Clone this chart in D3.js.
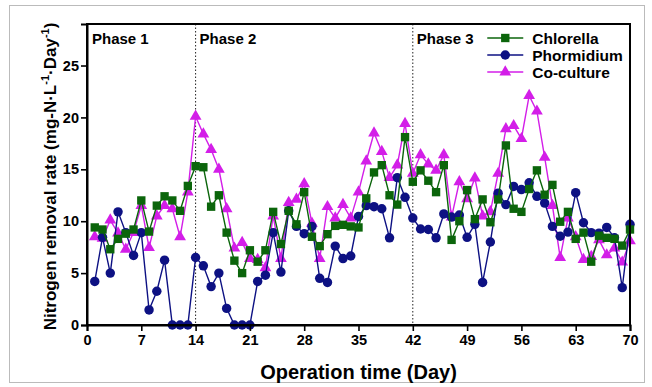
<!DOCTYPE html>
<html>
<head>
<meta charset="utf-8">
<script src="https://cdn.jsdelivr.net/npm/d3@7"></script>
<style>
  body { margin: 0; background: #fff; }
  svg { display: block; font-family: "Liberation Sans", Arial, sans-serif; }
</style>
</head>
<body>
<svg id="chart" width="652" height="387"></svg>
<script>
// Days 1..70
const days = d3.range(1, 71);

const chlorella = [
  9.4, 9.2, 7.3, 8.3, 8.8, 9.2, 12.0, 9.0, 11.5, 12.4,
  12.0, 11.0, 13.4, 15.3, 15.2, 11.4, 12.5, 8.9, 6.2, 5.0,
  7.2, 6.1, 7.2, 10.9, 7.8, 11.0, 9.7, 12.8, 8.5, 7.6,
  8.75, 9.55, 9.65, 9.5, 9.4, 12.2, 14.7, 15.4, 12.5, 11.6,
  18.1, 13.8, 14.9, 13.9, 12.8, 15.4, 8.2, 10.0, 13.0, 10.2,
  12.1, 9.9, 12.1, 17.3, 11.2, 10.9, 13.1, 14.9, 12.55, 13.5,
  9.95, 10.9, 8.3, 8.9, 6.1, 8.6, 8.4, 8.3, 7.65, 9.2
];

const phormidium = [
  4.2, 8.45, 5.0, 10.9, 8.9, 6.7, 8.9, 1.45, 3.25, 6.25,
  0, 0, 0, 6.5, 5.7, 3.7, 5.0, 1.6, 0, 0,
  0, 4.2, 4.8, 8.9, 5.1, 11.0, 9.5, 8.8, 9.5, 4.5,
  4.1, 7.6, 6.4, 6.65, 10.45, 11.5, 11.4, 11.2, 8.4, 14.2,
  12.3, 10.3, 9.25, 9.2, 8.4, 10.7, 10.4, 10.6, 8.45, 9.7,
  4.1, 8.0, 12.7, 11.6, 13.35, 13.05, 13.7, 12.4, 11.75, 9.5,
  8.55, 8.95, 12.75, 9.85, 8.9, 8.85, 9.4, 8.4, 3.6, 9.7
];

const coculture = [
  8.5, 8.35, 10.1, 8.85, 7.3, 8.9, 11.5, 7.45, 10.5, 11.5,
  11.2, 8.5, 12.8, 20.1, 18.4, 16.9, 15.0, 11.2, 7.4, 7.95,
  6.4, 6.3, 5.5, 10.5, 6.4, 11.8, 12.1, 13.6, 9.8, 6.4,
  11.4, 10.3, 11.6, 10.3, 12.8, 15.8, 18.5, 16.7, 14.2, 15.4,
  19.4, 14.6, 16.4, 15.5, 14.9, 16.4, 10.4, 13.8, 12.15, 14.15,
  10.5, 10.9, 14.6, 18.9, 19.2, 17.95, 22.1, 20.6, 16.15, 11.5,
  6.5, 10.3, 8.5, 6.3, 6.6, 8.2, 6.75, 7.4, 6.05, 8.1
];

const xTicks = [0, 7, 14, 21, 28, 35, 42, 49, 56, 63, 70];
const yTicks = [0, 5, 10, 15, 20, 25];
const phaseStarts = [0, 14, 42];
const phaseNames = ["Phase 1", "Phase 2", "Phase 3"];

const series = [
  { name: "Chlorella", values: chlorella, color: "#0b650b", symbol: d3.symbolSquare, size: 70 },
  { name: "Phormidium", values: phormidium, color: "#0d1183", symbol: d3.symbolCircle, size: 70 },
  { name: "Co-culture", values: coculture, color: "#d31ee8", symbol: d3.symbolTriangle, size: 60 }
];

const svg = d3.select('#chart');
const margin = { left: 87, right: 22, top: 24, bottom: 62 };
const width = 652 - margin.left - margin.right;
const height = 387 - margin.top - margin.bottom;

// outer thin border of the figure
svg.append('rect')
  .attr('x', 9.5).attr('y', 5.5)
  .attr('width', 635).attr('height', 377)
  .attr('fill', 'none')
  .attr('stroke', '#bbb')
  .attr('stroke-width', 1);

const g = svg.append('g').attr('transform', `translate(${margin.left},${margin.top})`);

const x = d3.scaleLinear().domain([0, 70]).range([0, width]);
const y = d3.scaleLinear().domain([0, 29]).range([height, 0]);

// phase dividers
g.selectAll('.phase-line')
  .data(phaseStarts.slice(1))
  .enter().append('line')
  .attr('x1', d => x(d)).attr('x2', d => x(d))
  .attr('y1', 0).attr('y2', height)
  .attr('stroke', '#222')
  .attr('stroke-width', 1)
  .attr('stroke-dasharray', '1.5,2');

// phase labels
g.selectAll('.phase-label')
  .data(phaseNames)
  .enter().append('text')
  .attr('x', (d, i) => x(phaseStarts[i]) + (i ? 4 : 5))
  .attr('y', 20)
  .attr('font-size', 15)
  .attr('font-weight', 'bold')
  .text(d => d);

// lines and markers, co-culture underneath
const drawOrder = [series[2], series[1], series[0]];
const line = d3.line().x((d, i) => x(days[i])).y(d => y(d));

drawOrder.forEach(s => {
  g.append('path')
    .datum(s.values)
    .attr('d', line)
    .attr('fill', 'none')
    .attr('stroke', s.color)
    .attr('stroke-width', 1.4);

  g.selectAll(null)
    .data(s.values)
    .enter().append('path')
    .attr('transform', (d, i) => `translate(${x(days[i])},${y(d)})`)
    .attr('d', d3.symbol().type(s.symbol).size(s.size))
    .attr('fill', s.color);
});

// frame
g.append('rect')
  .attr('x', 0).attr('y', 0)
  .attr('width', width).attr('height', height)
  .attr('fill', 'none')
  .attr('stroke', '#000')
  .attr('stroke-width', 2);

// axes
const xAxis = g.append('g')
  .attr('transform', `translate(0,${height})`)
  .call(d3.axisBottom(x).tickValues(xTicks).tickSize(6).tickPadding(4));
const yAxis = g.append('g')
  .call(d3.axisLeft(y).tickValues(yTicks).tickSize(6).tickPadding(2));

[xAxis, yAxis].forEach(a => {
  a.select('.domain').attr('stroke-width', 2);
  a.selectAll('.tick line').attr('stroke-width', 1.6);
  a.selectAll('text')
    .attr('font-size', 14.5)
    .attr('font-weight', 'bold')
    .attr('font-family', '"Liberation Sans", Arial, sans-serif')
    .attr('fill', '#000');
});

// axis titles
svg.append('text')
  .attr('x', margin.left + width / 2)
  .attr('y', 379)
  .attr('text-anchor', 'middle')
  .attr('font-size', 20)
  .attr('font-weight', 'bold')
  .text('Operation time (Day)');

const yTitle = svg.append('text')
  .attr('transform', `translate(56,${margin.top + height / 2 + 2}) rotate(-90)`)
  .attr('text-anchor', 'middle')
  .attr('font-size', 17)
  .attr('font-weight', 'bold');
yTitle.append('tspan').text('Nitrogen removal rate (mg-N·L');
yTitle.append('tspan').attr('dy', -7).attr('font-size', 11).text('-1');
yTitle.append('tspan').attr('dy', 7).text('·Day');
yTitle.append('tspan').attr('dy', -7).attr('font-size', 11).text('-1');
yTitle.append('tspan').attr('dy', 7).text(')');

// legend
const legend = g.append('g').attr('transform', `translate(${x(51.6)},14)`);
series.forEach((s, i) => {
  const row = legend.append('g').attr('transform', `translate(0,${i * 17})`);
  row.append('line')
    .attr('x1', 0).attr('x2', 36)
    .attr('stroke', s.color).attr('stroke-width', 1.4);
  row.append('path')
    .attr('transform', 'translate(18,0)')
    .attr('d', d3.symbol().type(s.symbol).size(s.size))
    .attr('fill', s.color);
  row.append('text')
    .attr('x', 45).attr('y', 5.5)
    .attr('font-size', 15.5)
    .attr('font-weight', 'bold')
    .text(s.name);
});
</script>
</body>
</html>
